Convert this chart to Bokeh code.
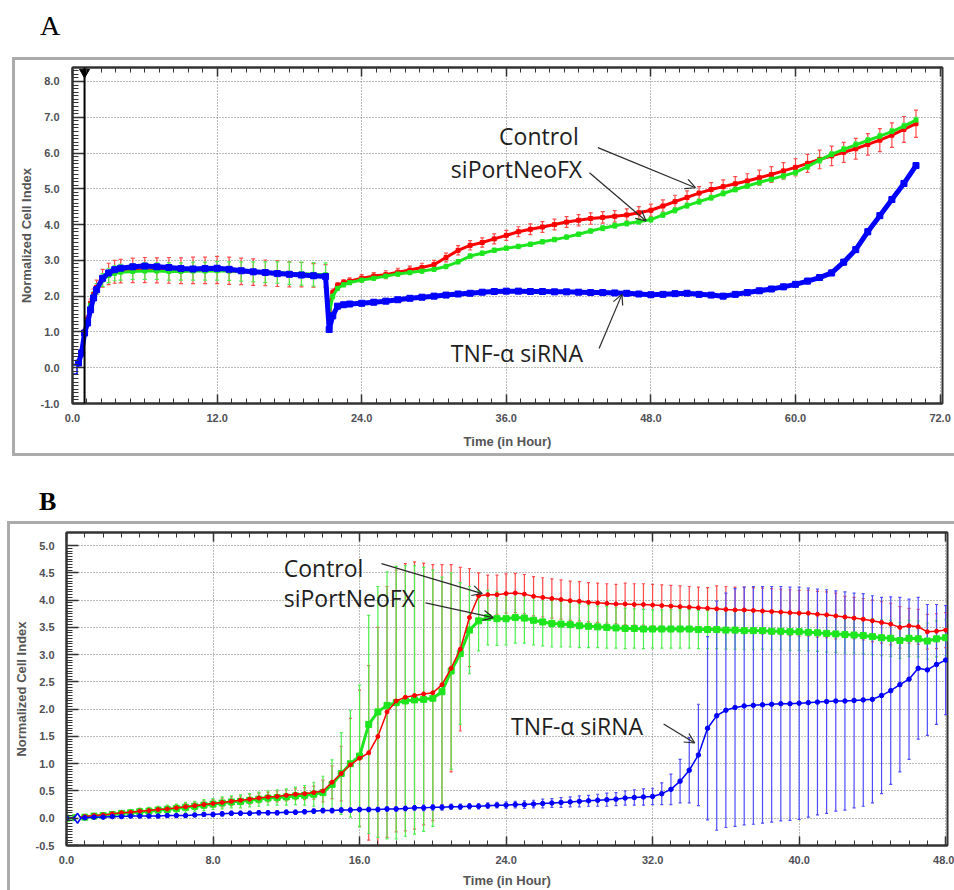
from bokeh.plotting import figure
from bokeh.models import (Range1d, LinearAxis, FixedTicker, PrintfTickFormatter, Whisker, TeeHead,
                          ColumnDataSource, Arrow, OpenHead, Span, Div)
from bokeh.layouts import column
from bokeh.embed import file_html
from bokeh.resources import INLINE
from bokeh.core.properties import value

# ---------------- Panel A data (time in hours) ----------------
tA = [0, 0.5, 0.75, 1.0, 1.25, 1.5, 1.75, 2.0, 2.5, 3, 3.5,
      4, 5, 6, 7, 8, 9, 10, 11, 12, 13, 14, 15, 16, 17, 18, 19, 20, 21,
      21.3, 21.6, 22, 22.5, 23,
      24, 25, 26, 27, 28, 29, 30, 31, 32, 33, 34, 35, 36, 37, 38, 39, 40, 41, 42, 43, 44, 45, 46, 47,
      48, 49, 50, 51, 52, 53, 54, 55, 56, 57, 58, 59, 60, 61, 62, 63, 64, 65, 66, 67, 68, 69, 70]

ctrlA = [0.0, 0.15, 0.45, 1.0, 1.35, 1.8, 2.05, 2.25, 2.5, 2.62, 2.68,
         2.70, 2.72, 2.73, 2.72, 2.72, 2.71, 2.72, 2.72, 2.73, 2.71, 2.69, 2.67, 2.65, 2.63, 2.61, 2.60, 2.58, 2.56,
         1.60, 2.10, 2.30, 2.38, 2.42,
         2.50, 2.56, 2.60, 2.67, 2.73, 2.80, 2.88, 3.08, 3.28, 3.42, 3.50, 3.60, 3.70, 3.80, 3.87, 3.93,
         4.00, 4.07, 4.12, 4.17, 4.20, 4.23, 4.27, 4.33, 4.40, 4.52, 4.64, 4.76, 4.88, 4.98, 5.06, 5.14,
         5.22, 5.31, 5.40, 5.50, 5.60, 5.71, 5.82, 5.92, 6.02, 6.12, 6.24, 6.36, 6.50, 6.66, 6.82]
ctrlA_sd = [0.02, 0.03, 0.05, 0.08, 0.10, 0.12, 0.15, 0.20, 0.25, 0.30, 0.32,
            0.33, 0.34, 0.35, 0.35, 0.36, 0.36, 0.37, 0.37, 0.38, 0.38, 0.37, 0.37, 0.36, 0.36, 0.35, 0.34, 0.33, 0.32,
            0.15, 0.10, 0.08, 0.08, 0.09,
            0.10, 0.10, 0.11, 0.11, 0.11, 0.12, 0.12, 0.12, 0.13, 0.13, 0.13, 0.14, 0.14, 0.14, 0.15, 0.15,
            0.15, 0.15, 0.16, 0.16, 0.16, 0.16, 0.17, 0.17, 0.17, 0.17, 0.18, 0.18, 0.18, 0.19, 0.19, 0.20,
            0.20, 0.21, 0.22, 0.23, 0.24, 0.25, 0.26, 0.27, 0.28, 0.29, 0.30, 0.32, 0.34, 0.36, 0.38]

neoA = [0.0, 0.12, 0.40, 0.95, 1.30, 1.75, 2.00, 2.20, 2.45, 2.58, 2.64,
        2.67, 2.69, 2.70, 2.70, 2.69, 2.69, 2.70, 2.70, 2.71, 2.70, 2.69, 2.68, 2.67, 2.66, 2.64, 2.63, 2.61, 2.60,
        1.50, 2.00, 2.22, 2.32, 2.38,
        2.45, 2.50, 2.56, 2.62, 2.66, 2.70, 2.75, 2.83, 2.96, 3.12, 3.20, 3.28, 3.34, 3.39, 3.45, 3.52,
        3.58, 3.65, 3.73, 3.82, 3.90, 3.97, 4.03, 4.08, 4.14, 4.27, 4.40, 4.53, 4.64, 4.75, 4.87, 4.98,
        5.08, 5.18, 5.27, 5.36, 5.46, 5.62, 5.80, 5.96, 6.10, 6.23, 6.35, 6.47, 6.60, 6.75, 6.92]
neoA_sd = [0.02, 0.03, 0.04, 0.06, 0.08, 0.10, 0.12, 0.15, 0.18, 0.20, 0.21,
           0.22, 0.22, 0.23, 0.23, 0.24, 0.24, 0.25, 0.25, 0.26, 0.26, 0.27, 0.28, 0.29, 0.30, 0.31, 0.32, 0.33, 0.33,
           0.12, 0.08, 0.06, 0.06, 0.06,
           0.06, 0.06, 0.06, 0.06, 0.06, 0.06, 0.06, 0.06, 0.06, 0.06, 0.06, 0.06, 0.06, 0.06, 0.06, 0.06,
           0.06, 0.06, 0.06, 0.06, 0.07, 0.07, 0.07, 0.07, 0.07, 0.07, 0.07, 0.07, 0.07, 0.07, 0.07, 0.07,
           0.07, 0.07, 0.07, 0.08, 0.08, 0.08, 0.08, 0.08, 0.08, 0.08, 0.08, 0.08, 0.08, 0.08, 0.08]

tnfA = [-0.05, 0.13, 0.41, 0.97, 1.25, 1.62, 1.95, 2.18, 2.50, 2.65, 2.74,
        2.78, 2.82, 2.84, 2.82, 2.80, 2.77, 2.76, 2.77, 2.78, 2.75, 2.71, 2.68, 2.66, 2.63, 2.61, 2.59, 2.57, 2.55,
        1.07, 1.45, 1.72, 1.76, 1.78,
        1.80, 1.83, 1.86, 1.90, 1.94, 1.97, 2.00, 2.03, 2.06, 2.08, 2.11, 2.13, 2.14, 2.14, 2.13, 2.13,
        2.12, 2.12, 2.11, 2.10, 2.10, 2.09, 2.08, 2.06, 2.04, 2.05, 2.07, 2.08, 2.05, 2.03, 2.00, 2.05,
        2.10, 2.15, 2.20, 2.26, 2.33, 2.42, 2.52, 2.65, 2.95, 3.30, 3.80, 4.25, 4.70, 5.15, 5.65]
tnfA_sd = [0.02, 0.02, 0.03, 0.04, 0.04, 0.05, 0.05, 0.05, 0.05, 0.05, 0.05,
           0.05, 0.05, 0.05, 0.05, 0.05, 0.05, 0.05, 0.05, 0.05, 0.05, 0.05, 0.05, 0.05, 0.05, 0.05, 0.05, 0.05, 0.05,
           0.05, 0.05, 0.05, 0.05, 0.05,
           0.05, 0.05, 0.05, 0.06, 0.06, 0.06, 0.06, 0.06, 0.06, 0.06, 0.06, 0.06, 0.06, 0.06, 0.06, 0.06,
           0.06, 0.06, 0.06, 0.06, 0.06, 0.06, 0.06, 0.06, 0.06, 0.06, 0.06, 0.06, 0.06, 0.06, 0.06, 0.07,
           0.07, 0.07, 0.07, 0.07, 0.08, 0.08, 0.08, 0.08, 0.08, 0.08, 0.08, 0.08, 0.08, 0.08, 0.08]

startA_t = [1.0]           # experiment start marker (black line with triangle)
normA_t, normA_y = [0.0], [-0.05]

# ---------------- Panel B data ----------------
tB = [0, 0.5, 1, 1.5, 2, 2.5, 3, 3.5, 4, 4.5, 5, 5.5, 6, 6.5, 7, 7.5, 8, 8.5, 9, 9.5,
      10, 10.5, 11, 11.5, 12, 12.5, 13, 13.5, 14, 14.5, 15, 15.5, 16, 16.5, 17, 17.5, 18, 18.5, 19, 19.5,
      20, 20.5, 21, 21.5, 22, 22.5, 23, 23.5, 24, 24.5, 25, 25.5, 26, 26.5, 27, 27.5, 28, 28.5, 29, 29.5,
      30, 30.5, 31, 31.5, 32, 32.5, 33, 33.5, 34, 34.5, 35, 35.5, 36, 36.5, 37, 37.5, 38, 38.5, 39, 39.5,
      40, 40.5, 41, 41.5, 42, 42.5, 43, 43.5, 44, 44.5, 45, 45.5, 46, 46.5, 47, 47.5, 48]

ctrlB = [0.00, 0.01, 0.03, 0.05, 0.06, 0.08, 0.10, 0.11, 0.13, 0.14, 0.16, 0.17, 0.19, 0.21, 0.23, 0.25,
         0.27, 0.29, 0.31, 0.33, 0.35, 0.37, 0.39, 0.40, 0.42, 0.44, 0.45, 0.47, 0.50, 0.66, 0.82, 0.98,
         1.10, 1.20, 1.50, 1.95, 2.15, 2.22, 2.25, 2.28, 2.30, 2.45, 2.75, 3.10, 3.68, 4.08, 4.10, 4.10,
         4.12, 4.13, 4.11, 4.07, 4.05, 4.03, 4.01, 3.99, 3.98, 3.96, 3.95, 3.94, 3.93, 3.93, 3.92, 3.92,
         3.91, 3.90, 3.89, 3.88, 3.87, 3.86, 3.85, 3.84, 3.83, 3.82, 3.82, 3.81, 3.80, 3.79, 3.78, 3.77,
         3.76, 3.76, 3.74, 3.73, 3.71, 3.69, 3.67, 3.65, 3.62, 3.59, 3.56, 3.50, 3.53, 3.51, 3.42, 3.43, 3.45]
ctrlB_sd = [0.02, 0.02, 0.03, 0.03, 0.03, 0.04, 0.04, 0.04, 0.05, 0.05, 0.05, 0.06, 0.06, 0.06, 0.07, 0.07,
            0.07, 0.08, 0.08, 0.08, 0.09, 0.09, 0.09, 0.10, 0.10, 0.10, 0.11, 0.12,
            0.20, 0.30, 0.50, 0.85, 1.25, 1.60, 2.00, 2.30, 2.40, 2.45, 2.45, 2.40, 2.35, 2.20, 1.90, 1.50,
            0.90, 0.42,
            0.36, 0.36, 0.36, 0.36, 0.36, 0.36, 0.36, 0.36, 0.36, 0.36, 0.36, 0.36, 0.36, 0.36, 0.36,
            0.38, 0.38, 0.38, 0.38, 0.38, 0.38, 0.38, 0.38, 0.38, 0.38,
            0.42, 0.42, 0.42, 0.42, 0.42, 0.42, 0.42, 0.42, 0.42, 0.42, 0.42, 0.42, 0.42, 0.42,
            0.38, 0.38, 0.38, 0.38, 0.38, 0.38, 0.38,
            0.32, 0.32, 0.32, 0.32, 0.32]

neoB = [0.00, 0.01, 0.02, 0.04, 0.05, 0.07, 0.09, 0.10, 0.12, 0.13, 0.15, 0.16, 0.18, 0.20, 0.22, 0.24,
        0.26, 0.28, 0.30, 0.31, 0.33, 0.35, 0.37, 0.38, 0.39, 0.41, 0.42, 0.44, 0.47, 0.62, 0.82, 1.00,
        1.14, 1.72, 1.95, 2.07, 2.12, 2.15, 2.17, 2.18, 2.20, 2.32, 2.70, 3.02, 3.45, 3.62, 3.68, 3.66,
        3.66, 3.68, 3.67, 3.63, 3.60, 3.57, 3.56, 3.55, 3.53, 3.52, 3.51, 3.50, 3.49, 3.48, 3.48, 3.47,
        3.47, 3.47, 3.47, 3.47, 3.47, 3.46, 3.46, 3.46, 3.45, 3.45, 3.44, 3.44, 3.44, 3.43, 3.43, 3.42,
        3.42, 3.41, 3.40, 3.39, 3.38, 3.37, 3.36, 3.35, 3.33, 3.31, 3.30, 3.26, 3.30, 3.29, 3.25, 3.29, 3.31]
neoB_sd = [0.02, 0.02, 0.03, 0.04, 0.04, 0.05, 0.05, 0.06, 0.06, 0.07, 0.07, 0.08, 0.08, 0.09, 0.09, 0.10,
           0.10, 0.11, 0.11, 0.12, 0.12, 0.13, 0.13, 0.14, 0.15, 0.16, 0.18, 0.22,
           0.30, 0.45, 0.75, 0.98, 1.30, 2.00, 2.30, 2.45, 2.50, 2.48, 2.46, 2.42, 2.35, 2.10, 1.80, 1.30,
           0.80, 0.55,
           0.50, 0.49, 0.48, 0.47, 0.46, 0.45, 0.44, 0.43, 0.42, 0.41,
           0.40, 0.39, 0.38, 0.38, 0.37, 0.37, 0.36, 0.36, 0.35, 0.35,
           0.35, 0.35, 0.35, 0.35, 0.35, 0.35, 0.35, 0.35, 0.35, 0.35,
           0.34, 0.34, 0.34, 0.34, 0.34, 0.34, 0.34, 0.34, 0.34, 0.34,
           0.33, 0.33, 0.33, 0.33, 0.33, 0.33, 0.33, 0.33, 0.33, 0.33, 0.33]

tnfB = [0.00, 0.00, 0.01, 0.02, 0.02, 0.03, 0.03, 0.04, 0.04, 0.04, 0.04, 0.05, 0.05, 0.05, 0.06, 0.07,
        0.07, 0.08, 0.09, 0.09, 0.09, 0.10, 0.10, 0.10, 0.11, 0.11, 0.12, 0.13, 0.14, 0.14, 0.15, 0.15,
        0.16, 0.16, 0.16, 0.17, 0.17, 0.18, 0.19, 0.19, 0.20, 0.20, 0.21, 0.21, 0.22, 0.22, 0.23, 0.24,
        0.24, 0.25, 0.25, 0.26, 0.27, 0.28, 0.29, 0.30, 0.31, 0.32, 0.33, 0.34, 0.35, 0.37, 0.38, 0.39,
        0.40, 0.45, 0.53, 0.68, 0.88, 1.16, 1.65, 1.88, 1.98, 2.03, 2.06, 2.07, 2.08, 2.09, 2.10, 2.10,
        2.11, 2.12, 2.13, 2.14, 2.15, 2.15, 2.16, 2.17, 2.18, 2.25, 2.34, 2.45, 2.55, 2.75, 2.72, 2.82, 2.90]
tnfB_sd = [0.01, 0.01, 0.02, 0.02, 0.02, 0.02, 0.02, 0.03, 0.03, 0.03, 0.03, 0.03, 0.03, 0.03, 0.03, 0.03,
           0.04, 0.04, 0.04, 0.04, 0.04, 0.04, 0.04, 0.04, 0.04, 0.04, 0.04, 0.04, 0.04, 0.04, 0.04, 0.04,
           0.04, 0.04, 0.04, 0.04, 0.04, 0.04, 0.04, 0.05, 0.05, 0.05, 0.05, 0.05, 0.05, 0.05,
           0.05, 0.05, 0.06, 0.06, 0.07, 0.07, 0.08, 0.08, 0.09, 0.09, 0.10, 0.10, 0.11, 0.12, 0.12, 0.13,
           0.14, 0.15, 0.15,
           0.20, 0.28, 0.40, 0.60, 0.93, 1.68, 2.10, 2.15, 2.18, 2.18, 2.18, 2.17, 2.16, 2.15, 2.14, 2.13,
           2.10, 2.07, 2.05, 2.02, 2.00, 1.97, 1.95, 1.90, 1.80, 1.72, 1.60, 1.47, 1.30, 1.20, 1.10, 1.00]

normB_t, normB_y = [0.6], [0.0]

for arr in (ctrlA, ctrlA_sd, neoA, neoA_sd, tnfA, tnfA_sd):
    assert len(arr) == len(tA), len(arr)
for arr in (ctrlB, ctrlB_sd, neoB, neoB_sd, tnfB, tnfB_sd):
    assert len(arr) == len(tB), len(arr)

# Annotation texts / arrows (data coordinates)
ann_text = ["Control", "siPortNeoFX", "TNF-\u03b1 siRNA"]
annA_x = [35.4, 31.4, 31.4]
annA_y = [6.48, 5.55, 0.40]
arrA_x0 = [43.6, 42.9, 43.7]
arrA_y0 = [6.15, 5.45, 0.54]
arrA_x1 = [51.7, 47.6, 45.6]
arrA_y1 = [5.03, 4.10, 2.05]

annB_x = [11.86, 11.86, 24.27]
annB_y = [4.58, 4.03, 1.69]
arrB_x0 = [17.2, 19.6, 32.6]
arrB_y0 = [4.67, 3.95, 1.73]
arrB_x1 = [22.7, 23.3, 34.3]
arrB_y1 = [4.12, 3.68, 1.38]

# Axis ticks
xA_ticks = [0, 12, 24, 36, 48, 60, 72]
yA_ticks = [-1, 0, 1, 2, 3, 4, 5, 6, 7, 8]
xB_ticks = [0, 8, 16, 24, 32, 40, 48]
yB_ticks = [-0.5, 0, 0.5, 1.0, 1.5, 2.0, 2.5, 3.0, 3.5, 4.0, 4.5, 5.0]

xA_minor = [round(i * 1.2, 2) for i in range(61)]
yA_minor = [round(-1 + i * 0.1, 2) for i in range(95)]
xB_minor = list(range(49))
yB_minor = [round(-0.5 + i * 0.05, 3) for i in range(111)]

RED, GREEN, BLUE = "#ff0000", "#1ee61e", "#0000ff"
RED_BAR, GREEN_BAR, BLUE_BAR = "#ff4a4a", "#4cf04c", "#4d4dff"
AX = "#333333"
TICK_TXT = "#4f4f55"
TITLE_TXT = "#555555"
FRAME_GRAY = "#ababab"


def make_fig(width, height, xr, yr, left, right, top, bottom):
    p = figure(width=width, height=height, x_range=Range1d(*xr), y_range=Range1d(*yr),
               output_backend="svg", toolbar_location=None,
               min_border_left=left, min_border_right=right,
               min_border_top=top, min_border_bottom=bottom)
    p.background_fill_color = "white"
    p.border_fill_color = "white"
    p.outline_line_color = AX
    p.outline_line_width = 2
    return p


def style_axes(p, xt, xm, yt, ym, xls, xts, yls, yts):
    xa, ya = p.xaxis[0], p.yaxis[0]
    xa.ticker = FixedTicker(ticks=xt, minor_ticks=xm)
    ya.ticker = FixedTicker(ticks=yt, minor_ticks=ym)
    p.xgrid.ticker = xa.ticker
    p.ygrid.ticker = ya.ticker
    for g in (p.xgrid, p.ygrid):
        g.grid_line_color = "#7a7a7a"
        g.grid_line_dash = "1 2"
        g.grid_line_width = 1
    for ax in (xa, ya):
        ax.formatter = PrintfTickFormatter(format="%.1f")
        ax.axis_line_color = AX
        ax.axis_line_width = 2
        ax.major_tick_line_color = AX
        ax.minor_tick_line_color = AX
        ax.major_tick_line_width = 1.5
        ax.minor_tick_line_width = 1
        ax.major_tick_out = 0
        ax.minor_tick_out = 0
        ax.major_label_text_font = "Liberation Sans"
        ax.major_label_text_font_style = "bold"
        ax.major_label_text_font_size = "11px"
        ax.major_label_text_color = TICK_TXT
        ax.axis_label_text_font = "Liberation Sans"
        ax.axis_label_text_font_style = "bold"
        ax.axis_label_text_font_size = "13px"
        ax.axis_label_text_color = TITLE_TXT
    xa.major_tick_in = 9
    xa.minor_tick_in = 5
    ya.major_tick_in = 12
    ya.minor_tick_in = 6
    xa.major_label_standoff = xls
    xa.axis_label_standoff = xts
    ya.major_label_standoff = yls
    ya.axis_label_standoff = yts
    xa.axis_label = "Time (in Hour)"
    ya.axis_label = "Normalized Cell Index"
    topax = LinearAxis(ticker=FixedTicker(ticks=xt, minor_ticks=xm),
                       major_tick_in=9, minor_tick_in=5, major_tick_out=0, minor_tick_out=0,
                       major_label_overrides={t: "" for t in xt},
                       major_label_text_font_size="1px", major_label_standoff=0,
                       axis_line_color=AX, axis_line_width=2,
                       major_tick_line_color=AX, minor_tick_line_color=AX,
                       major_tick_line_width=1.5)
    p.add_layout(topax, "above")


def add_bars(p, t, y, sd, color, head=4):
    src = ColumnDataSource(dict(base=t,
                                upper=[v + s for v, s in zip(y, sd)],
                                lower=[v - s for v, s in zip(y, sd)]))
    w = Whisker(source=src, base="base", upper="upper", lower="lower", dimension="height",
                line_color=color, line_width=1.2,
                upper_head=TeeHead(size=head, line_color=color, line_width=1.2),
                lower_head=TeeHead(size=head, line_color=color, line_width=1.2))
    p.add_layout(w)


def add_notes(p, xs, ys, x0, y0, x1, y1):
    p.text(x=xs, y=ys, text=ann_text, text_font=value("Open Sans"), text_font_size="23px",
           text_color="#1e1e1e", text_align="left", text_baseline="middle")
    src = ColumnDataSource(dict(x0=x0, y0=y0, x1=x1, y1=y1))
    p.add_layout(Arrow(source=src, x_start="x0", y_start="y0", x_end="x1", y_end="y1",
                       line_color="#2a2a2a", line_width=1.2,
                       end=OpenHead(size=10, line_color="#2a2a2a", line_width=1.2)))


def letter_div(letter, height, pad_top, pad_left, size, weight):
    html = ('<div style="margin:0;padding:%dpx 0 0 %dpx;font-family:\'Liberation Serif\';'
            'font-size:%dpx;line-height:%dpx;font-weight:%s;color:#000;">%s</div>'
            % (pad_top, pad_left, size, size, weight, letter))
    return Div(text=html, width=954, height=height, margin=(0, 0, 0, 0))


# ---------------- Figure A ----------------
# canvas of A at page x 15..954, y 60..453 ; frame page x 71..942, y 67..403
pA = make_fig(939, 393, (0, 72.2), (-1, 8.39), left=56, right=12, top=7, bottom=50)
style_axes(pA, xA_ticks, xA_minor, yA_ticks, yA_minor, xls=10, xts=9, yls=13, yts=4)

add_bars(pA, tA, ctrlA, ctrlA_sd, RED_BAR)
add_bars(pA, tA, neoA, neoA_sd, GREEN_BAR)
add_bars(pA, tA, tnfA, tnfA_sd, BLUE_BAR)

pA.line(tA, ctrlA, line_color=RED, line_width=3)
pA.scatter(tA, ctrlA, marker="square", size=4, color=RED)
pA.line(tA, neoA, line_color=GREEN, line_width=3)
pA.scatter(tA, neoA, marker="square", size=4, color=GREEN)
pA.line(tA, tnfA, line_color=BLUE, line_width=5)
pA.scatter(tA[1:], tnfA[1:], marker="square", size=6, color=BLUE)
pA.scatter(normA_t, normA_y, marker="square", size=9, fill_color="white", line_color=BLUE, line_width=1.5)

pA.add_layout(Span(location=startA_t[0], dimension="height", line_color="black", line_width=2))
pA.scatter(startA_t, [8.39 - 0.13], marker="inverted_triangle", size=10, color="black")

add_notes(pA, annA_x, annA_y, arrA_x0, arrA_y0, arrA_x1, arrA_y1)

# ---------------- Figure B ----------------
# canvas of B at page x 10..954, y 524..890 ; frame page x 64..947, y 532..845
pB = make_fig(944, 366, (0, 48.1), (-0.5, 5.24), left=54, right=7, top=8, bottom=45)
style_axes(pB, xB_ticks, xB_minor, yB_ticks, yB_minor, xls=10, xts=6, yls=12, yts=4)

add_bars(pB, tB, ctrlB, ctrlB_sd, RED_BAR, head=3)
add_bars(pB, tB, neoB, neoB_sd, GREEN_BAR, head=3)
add_bars(pB, tB, tnfB, tnfB_sd, BLUE_BAR, head=3)

pB.line(tB, neoB, line_color=GREEN, line_width=3)
pB.scatter(tB, neoB, marker="square", size=6, color=GREEN)
pB.line(tB, ctrlB, line_color=RED, line_width=1.5)
pB.scatter(tB, ctrlB, marker="circle", size=4, color=RED)
pB.line(tB, tnfB, line_color=BLUE, line_width=1.5)
pB.scatter(tB, tnfB, marker="circle", size=4.5, color=BLUE)
pB.scatter(normB_t, normB_y, marker="diamond", size=10, fill_color="white", line_color=BLUE, line_width=1.5)

add_notes(pB, annB_x, annB_y, arrB_x0, arrB_y0, arrB_x1, arrB_y1)

# ---------------- Page layout ----------------
border = "3px solid %s" % FRAME_GRAY
divA = letter_div("A", 57, 12, 40, 28, "normal")
wrapA = column(pA, margin=(0, 0, 0, 12),
               styles={"border-top": border, "border-left": border, "border-bottom": border})
divB = letter_div("B", 65, 33, 39, 26, "bold")
wrapB = column(pB, margin=(0, 0, 0, 7),
               styles={"border-top": border, "border-left": border})

layout = column(divA, wrapA, divB, wrapB, spacing=0)
open("out.html", "w").write(file_html(layout, INLINE))
